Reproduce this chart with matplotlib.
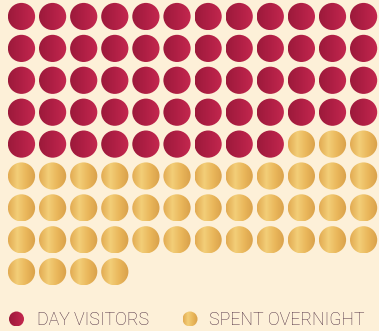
import numpy as np
import matplotlib
matplotlib.use("Agg")
import matplotlib.pyplot as plt
from matplotlib.patches import Circle
from matplotlib.colors import LinearSegmentedColormap

# Data
categories = ["DAY VISITORS", "SPENT OVERNIGHT"]
counts = [57, 43]
n_cols = 12

# Styles
bg = "#fdf0d8"
red_cmap = LinearSegmentedColormap.from_list("r", ["#9c1a3b", "#b01f45", "#c4284f"])
gold_cmap = LinearSegmentedColormap.from_list("g", ["#e2ab52", "#f3ce78", "#e9b65a", "#d9a04a"])
cmaps = [red_cmap, gold_cmap]
text_color = "#4e2e41"

W, H = 379, 331
fig = plt.figure(figsize=(W / 100, H / 100), dpi=100)
fig.patch.set_facecolor(bg)
ax = fig.add_axes([0, 0, 1, 1])
ax.set_facecolor(bg)
ax.set_xlim(0, W)
ax.set_ylim(H, 0)
ax.axis("off")

x0, y0 = 21.5, 16.5
dx, dy = 31.1, 31.9
r = 13.6
grad = np.linspace(0, 1, 64).reshape(1, -1)


def grad_circle(cx, cy, rad, cmap):
    circ = Circle((cx, cy), rad, transform=ax.transData, facecolor="none", edgecolor="none")
    ax.add_patch(circ)
    im = ax.imshow(grad, cmap=cmap, extent=(cx - rad, cx + rad, cy + rad, cy - rad),
                   interpolation="bilinear", aspect="auto", zorder=2)
    im.set_clip_path(circ)


idx = 0
for ci, cnt in enumerate(counts):
    for _ in range(cnt):
        row, col = divmod(idx, n_cols)
        grad_circle(x0 + col * dx, y0 + row * dy, r, cmaps[ci])
        idx += 1

# Legend
leg_y = 319
leg_items = [(16.5, 37), (190, 209)]
for ci, (cx, tx) in enumerate(leg_items):
    grad_circle(cx, leg_y, 7.5, cmaps[ci])
    ax.text(tx, leg_y + 1, categories[ci], color=text_color, fontsize=12.8,
            family="Roboto", fontweight="light", va="center", ha="left")

ax.set_xlim(0, W)
ax.set_ylim(H, 0)
fig.savefig("out.png", dpi=100, facecolor=bg)
